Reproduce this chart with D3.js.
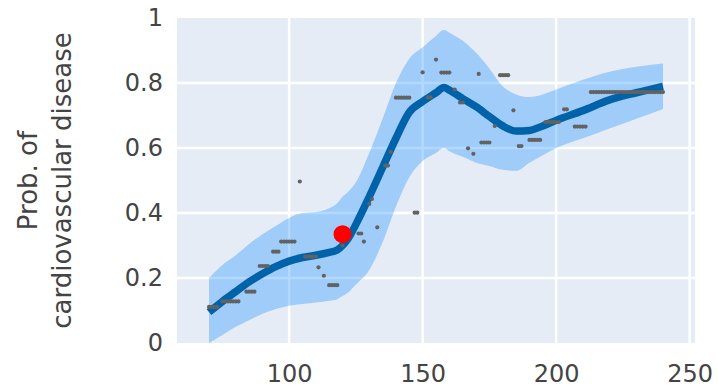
<!DOCTYPE html>
<html>
<head>
<meta charset="utf-8">
<script src="https://cdn.jsdelivr.net/npm/d3@7"></script>
<style>
  html, body { margin: 0; padding: 0; background: #ffffff; }
  svg { display: block; }
  text { font-family: "DejaVu Sans", Verdana, sans-serif; fill: #444444; }
</style>
</head>
<body>
<svg id="chart" width="718" height="388"></svg>
<script>
// Fitted curve: stations along x with mean estimate and confidence band
const fitX     = [70, 75, 80, 85, 90, 95, 100, 105, 110, 115, 118, 120, 122, 125, 130, 135, 140, 145, 150, 155, 158, 160, 165, 170, 175, 180, 185, 190, 195, 200, 210, 220, 230, 240];
const fitMean  = [0.095, 0.128, 0.158, 0.188, 0.213, 0.235, 0.252, 0.263, 0.270, 0.279, 0.286, 0.300, 0.320, 0.365, 0.450, 0.540, 0.630, 0.710, 0.743, 0.770, 0.786, 0.778, 0.752, 0.727, 0.697, 0.668, 0.652, 0.654, 0.668, 0.685, 0.715, 0.748, 0.770, 0.790];
const fitUpper = [0.200, 0.240, 0.270, 0.305, 0.335, 0.360, 0.385, 0.400, 0.403, 0.415, 0.430, 0.450, 0.465, 0.495, 0.585, 0.690, 0.800, 0.875, 0.910, 0.945, 0.963, 0.955, 0.930, 0.893, 0.845, 0.790, 0.765, 0.757, 0.765, 0.780, 0.810, 0.835, 0.850, 0.860];
const fitLower = [0.000, 0.025, 0.050, 0.070, 0.090, 0.105, 0.115, 0.120, 0.125, 0.130, 0.135, 0.145, 0.155, 0.180, 0.225, 0.310, 0.420, 0.510, 0.560, 0.585, 0.600, 0.590, 0.573, 0.555, 0.545, 0.533, 0.530, 0.555, 0.578, 0.600, 0.630, 0.660, 0.690, 0.720];

// Observed proportions
const obsX = [
  70, 71, 72, 73,
  75, 76, 77, 78, 79, 80, 81,
  84, 85, 86, 87,
  89, 90, 91, 92,
  94, 95, 96,
  97, 98, 99, 100, 101, 102,
  104,
  106, 107, 108, 109, 110,
  111, 113,
  115, 116, 117, 118,
  120,
  126, 127,
  128, 133,
  130, 131,
  136, 137,
  138,
  140, 141, 142, 143, 144, 145,
  147, 148,
  150,
  152, 153,
  155,
  157, 158, 159, 160,
  162,
  164, 165,
  167, 169,
  171,
  172, 173, 174, 175,
  177,
  179, 180, 181, 182,
  184,
  186, 187,
  190, 191, 192, 193, 194,
  196, 197, 198, 199, 200, 201,
  203, 204,
  207, 208, 209, 210, 211,
  213, 214, 215, 216, 217, 218, 219, 220, 221, 222, 223, 224, 225, 226, 227, 228, 229, 230, 231, 232, 233, 234, 235, 236, 237, 238, 239, 240
];
const obsP = [
  0.111, 0.111, 0.111, 0.111,
  0.128, 0.128, 0.128, 0.128, 0.128, 0.128, 0.128,
  0.158, 0.158, 0.158, 0.158,
  0.237, 0.237, 0.237, 0.237,
  0.281, 0.281, 0.281,
  0.312, 0.312, 0.312, 0.312, 0.312, 0.312,
  0.497,
  0.266, 0.266, 0.266, 0.266, 0.266,
  0.233, 0.207,
  0.178, 0.178, 0.178, 0.178,
  0.300,
  0.337, 0.337,
  0.312, 0.356,
  0.428, 0.443,
  0.546, 0.546,
  0.588,
  0.755, 0.755, 0.755, 0.755, 0.755, 0.755,
  0.401, 0.401,
  0.833,
  0.756, 0.756,
  0.872,
  0.832, 0.832, 0.832, 0.832,
  0.780,
  0.740, 0.740,
  0.599, 0.582,
  0.828,
  0.617, 0.617, 0.617, 0.617,
  0.668,
  0.824, 0.824, 0.824, 0.824,
  0.716,
  0.606, 0.606,
  0.625, 0.625, 0.625, 0.625, 0.625,
  0.680, 0.680, 0.680, 0.680, 0.680, 0.680,
  0.719, 0.719,
  0.666, 0.666, 0.666, 0.666, 0.666,
  0.772, 0.772, 0.772, 0.772, 0.772, 0.772, 0.772, 0.772, 0.772, 0.772, 0.772, 0.772, 0.772, 0.772, 0.772, 0.772, 0.772, 0.772, 0.772, 0.772, 0.772, 0.772, 0.772, 0.772, 0.772, 0.772, 0.772, 0.772
];

// Highlighted point
const highlightX = [120];
const highlightP = [0.335];

// Axis ticks and title
const xTicks = [100, 150, 200, 250];
const yTicks = [0, 0.2, 0.4, 0.6, 0.8, 1];
const yTitleLines = ["Prob. of", "cardiovascular disease"];

const svg = d3.select("#chart");
const plot = { left: 177, right: 695, top: 18, bottom: 343 };

const x = d3.scaleLinear().domain([58, 252]).range([plot.left, plot.right]);
const y = d3.scaleLinear().domain([0, 1]).range([plot.bottom, plot.top]);

// Plot background
svg.append("rect")
  .attr("x", plot.left).attr("y", plot.top)
  .attr("width", plot.right - plot.left).attr("height", plot.bottom - plot.top)
  .attr("fill", "#e5ecf6");

// Grid
const grid = svg.append("g").attr("stroke", "#ffffff").attr("stroke-width", 2.5);
grid.selectAll("line.v").data(xTicks).join("line")
  .attr("x1", d => x(d)).attr("x2", d => x(d))
  .attr("y1", plot.top).attr("y2", plot.bottom);
grid.selectAll("line.h").data(yTicks.filter(d => d > 0 && d < 1)).join("line")
  .attr("x1", plot.left).attr("x2", plot.right)
  .attr("y1", d => y(d)).attr("y2", d => y(d));

// Clip for data marks
svg.append("clipPath").attr("id", "plotclip")
  .append("rect")
  .attr("x", plot.left).attr("y", plot.top)
  .attr("width", plot.right - plot.left).attr("height", plot.bottom - plot.top);

const marks = svg.append("g").attr("clip-path", "url(#plotclip)");

const fit = fitX.map((v, i) => ({ x: v, m: fitMean[i], lo: fitLower[i], hi: fitUpper[i] }));

// Confidence band
const band = d3.area()
  .x(d => x(d.x))
  .y0(d => y(d.lo))
  .y1(d => y(d.hi))
  .curve(d3.curveMonotoneX);
marks.append("path")
  .datum(fit)
  .attr("d", band)
  .attr("fill", "rgba(0,128,255,0.3)");

// Mean curve
const line = d3.line()
  .x(d => x(d.x))
  .y(d => y(d.m))
  .curve(d3.curveMonotoneX);
marks.append("path")
  .datum(fit)
  .attr("d", line)
  .attr("fill", "none")
  .attr("stroke", "#0062a8")
  .attr("stroke-width", 7.5)
  .attr("stroke-linejoin", "round");

// Observed points
const obs = obsX.map((v, i) => ({ x: v, p: obsP[i] }));
marks.append("g").selectAll("circle").data(obs).join("circle")
  .attr("cx", d => x(d.x))
  .attr("cy", d => y(d.p))
  .attr("r", 2.1)
  .attr("fill", "#626262");

// Highlighted point
marks.append("g").selectAll("circle").data(highlightX.map((v, i) => ({ x: v, p: highlightP[i] }))).join("circle")
  .attr("cx", d => x(d.x))
  .attr("cy", d => y(d.p))
  .attr("r", 9)
  .attr("fill", "#ff0000");

// Axes
const xAxis = d3.axisBottom(x).tickValues(xTicks).tickSize(0).tickPadding(22).tickFormat(d3.format("d"));
const gx = svg.append("g").attr("transform", `translate(0,${plot.bottom})`).call(xAxis);
gx.select(".domain").remove();
gx.selectAll("text").attr("font-size", 24).attr("font-family", "DejaVu Sans, Verdana, sans-serif").attr("fill", "#444");

const yAxis = d3.axisLeft(y).tickValues(yTicks).tickSize(0).tickPadding(14).tickFormat(d => d === 0 || d === 1 ? String(d) : d3.format(".1f")(d));
const gy = svg.append("g").attr("transform", `translate(${plot.left},0)`).call(yAxis);
gy.select(".domain").remove();
gy.selectAll("text").attr("font-size", 24).attr("font-family", "DejaVu Sans, Verdana, sans-serif").attr("fill", "#444");

// Y title
const cy = (plot.top + plot.bottom) / 2;
const title = svg.append("text")
  .attr("transform", `translate(37,${cy}) rotate(-90)`)
  .attr("text-anchor", "middle")
  .attr("font-size", 26);
yTitleLines.forEach((t, i) => {
  title.append("tspan").attr("x", 0).attr("dy", i === 0 ? 0 : 34).text(t);
});
</script>
</body>
</html>
